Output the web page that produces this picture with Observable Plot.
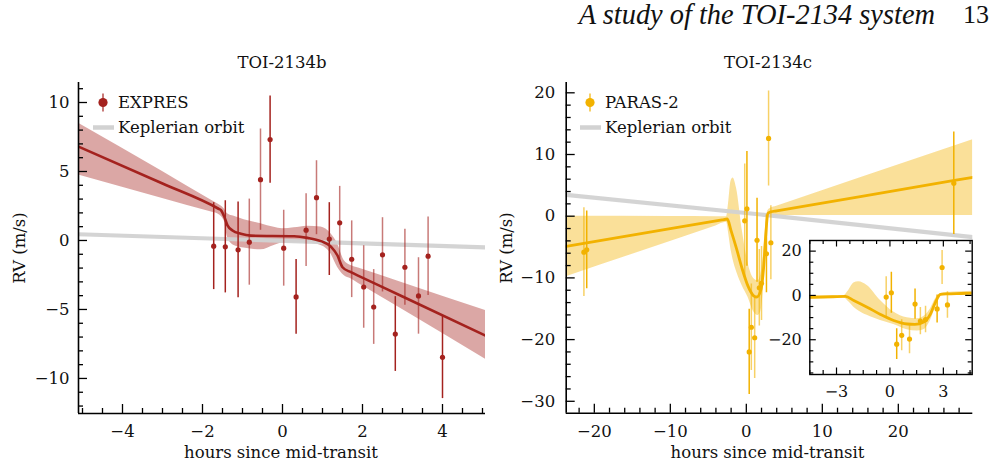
<!DOCTYPE html>
<html>
<head>
<meta charset="utf-8">
<script src="https://cdn.jsdelivr.net/npm/d3@7"></script>
<script src="https://cdn.jsdelivr.net/npm/@observablehq/plot@0.6"></script>
<style>
html,body{margin:0;padding:0;background:#fff;}
#fig{position:relative;width:1002px;height:468px;overflow:hidden;background:#fff;}
#fig > *{position:absolute;}
#hdr{font-family:"Liberation Serif",serif;font-style:italic;font-size:28.4px;line-height:1;color:#111;white-space:nowrap;}
#pg{font-family:"Liberation Serif",serif;font-size:26px;line-height:1;color:#111;}
</style>
</head>
<body>
<div id="fig"></div>
<script>
// ---------------- data ----------------
const panelTitles = ["TOI-2134b", "TOI-2134c"];
const seriesNames = ["EXPRES", "PARAS-2", "Keplerian orbit"];
const xLabel = "hours since mid-transit";
const yLabel = "RV (m/s)";
const headerText = "A study of the TOI-2134 system";
const pageNumber = "13";

// TOI-2134b, EXPRES
const expresTime = [-1.72,-1.43,-1.11,-0.83,-0.55,-0.31,0.03,0.34,0.59,0.85,1.17,1.43,1.73,2.03,2.28,2.50,2.82,3.06,3.40,3.64,4.00];
const expresRV   = [-0.41,-0.46,-0.68,-0.12,4.41,7.31,-0.56,-4.09,0.75,3.10,0.10,1.28,-1.36,-3.37,-4.82,-1.04,-6.78,-1.94,-4.02,-1.14,-8.47];
const expresErr  = [3.15,3.34,3.47,3.12,3.67,3.16,2.75,2.71,2.63,2.68,2.64,2.64,2.78,2.99,2.71,2.69,2.71,2.75,2.77,2.85,2.99];
const expresSet  = ["d","d","d","l","l","d","l","d","l","l","d","l","l","l","l","l","d","l","l","l","d"];

const modelTimeB = [-5.1,-3.0,-1.6,-1.54,-1.46,-1.375,-1.25,-1.04,-0.79,0.29,0.625,0.96,1.21,1.375,1.5,1.71,1.9,3.0,5.075];
const modelRVB   = [6.8,4.13,2.3,2.2,1.75,1.1,0.73,0.48,0.35,0.31,0.19,-0.05,-0.44,-1.09,-1.94,-2.3,-2.56,-4.06,-6.9];
const bandTimeB  = [-5.1,-3.0,-1.8,-1.625,-1.46,-1.375,-1.21,-0.96,-0.54,-0.21,0,0.29,0.625,0.96,1.21,1.375,1.54,1.71,1.9,3.0,5.075];
const bandLoB    = [4.75,3.05,2.08,1.94,1.45,0.24,-0.36,-0.55,-0.68,-0.36,-0.19,-0.17,-0.19,-0.36,-0.97,-1.94,-2.54,-2.78,-3.11,-5.01,-8.6];
const bandHiB    = [8.5,5.0,2.95,2.66,2.3,1.94,1.75,1.5,1.21,0.95,0.85,0.92,1.04,0.97,0.48,-0.24,-1.45,-1.82,-2.0,-3.07,-5.08];
const keplerTimeB = [-5.1, 5.075];
const keplerRVB   = [0.45, -0.5];

// TOI-2134c, PARAS-2
const parasTime = [-21.37,-21.0,-0.21,0.08,0.38,0.66,1.10,1.41,1.71,2.00,2.65,2.93,3.23,27.3];
const parasRV   = [-5.83,-5.45,-0.75,1.2,-22.0,-18.0,-19.7,-3.9,-11.6,-10.9,-6.1,12.6,-4.3,5.35];
const parasErr  = [7.2,6.3,9.2,9.3,6.9,7.0,6.6,6.8,6.2,6.0,6.3,7.7,6.0,8.3];
const parasSet  = ["l","d","l","d","d","l","l","d","l","l","d","l","l","d"];

const modelTimeC = [-23.7,-10,-3.2,-2.5,-2.03,-1.28,-0.53,0.21,0.97,1.4,1.9,2.28,2.56,2.84,3.2,4.0,15,29.8];
const modelRVC   = [-4.9,-2.02,-0.6,-0.45,-2.26,-5.3,-8.6,-11.3,-12.9,-13.1,-12.0,-8.3,-3.0,0.45,0.7,0.87,3.18,6.3];
const bandTimeC  = [-23.7,-10,-4.0,-2.6,-2.3,-2.03,-1.75,-1.28,-0.53,0.21,0.97,1.53,1.9,2.28,2.56,2.84,3.2,4.0,15,29.8];
const bandLoC    = [-9.8,-4.09,-1.58,-1.0,-3.0,-5.3,-7.0,-9.0,-11.3,-13.1,-15.5,-16.1,-15.5,-11.3,-5.3,0.0,0.1,0.1,0.1,0.1];
const bandHiC    = [0.0,-0.05,-0.09,-0.1,2.5,5.6,6.2,4.5,-2.3,-7.5,-10.1,-10.5,-9.5,-6.0,-1.5,0.9,1.3,1.63,6.23,12.4];
const keplerTimeC = [-23.7, 1.9, 29.8];
const keplerRVC   = [3.45, 0.27, -3.4];

// tick values
const bXTicks = [-4,-2,0,2,4];
const bYTicks = [-10,-5,0,5,10];
const cXTicks = [-20,-10,0,10,20];
const cYTicks = [-30,-20,-10,0,10,20];
const iXTicks = [-3,0,3];
const iYTicks = [-20,0,20];

// ---------------- styling ----------------
const RED = "#a4221e", ORANGE = "#f2b200", GRAY = "#d2d2d2";
const FONT = "DejaVu Serif";
const fmt = d => (d < 0 ? "\u2212" : "") + Math.abs(d);
const minorOf = (a, b, s, maj) => d3.range(a, b + s / 2, s).map(v => +v.toFixed(3)).filter(v => !maj.includes(v));

const zip = (t, v, e, g) => t.map((x, i) => ({t: x, rv: v[i], e: e ? e[i] : 0, g: g ? g[i] : "d"}));
const bPts = zip(expresTime, expresRV, expresErr, expresSet);
const bModel = zip(modelTimeB, modelRVB);
const bBand = bandTimeB.map((t, i) => ({t, lo: bandLoB[i], hi: bandHiB[i]}));
const bKep = zip(keplerTimeB, keplerRVB);
const cPts = zip(parasTime, parasRV, parasErr, parasSet);
const cModel = zip(modelTimeC, modelRVC);
const cBand = bandTimeC.map((t, i) => ({t, lo: bandLoC[i], hi: bandHiC[i]}));
const cKep = zip(keplerTimeC, keplerRVC);

function axesMarks(xd, yd, pw, ph, o) {
  const kx = (xd[1] - xd[0]) / pw, ky = (yd[1] - yd[0]) / ph;
  const S = {stroke: "#000", strokeWidth: o.tw};
  const m = [];
  const ex = o.box ? [[yd[0], 1], [yd[1], -1]] : [[yd[0], 1]];
  const ey = o.box ? [[xd[0], 1], [xd[1], -1]] : [[xd[0], 1]];
  for (const [e, s] of ex) {
    m.push(Plot.ruleX(o.xMin, {x: d => d, y1: () => e, y2: () => e + s * o.l * ky, ...S}));
    m.push(Plot.ruleX(o.xMaj, {x: d => d, y1: () => e, y2: () => e + s * o.L * ky, ...S}));
  }
  for (const [e, s] of ey) {
    m.push(Plot.ruleY(o.yMin, {y: d => d, x1: () => e, x2: () => e + s * o.l * kx, ...S}));
    m.push(Plot.ruleY(o.yMaj, {y: d => d, x1: () => e, x2: () => e + s * o.L * kx, ...S}));
  }
  if (o.box) m.push(Plot.frame({stroke: "#000", strokeWidth: o.sw}));
  else {
    m.push(Plot.ruleY([yd[0]], {stroke: "#000", strokeWidth: o.sw}));
    m.push(Plot.ruleX([xd[0]], {stroke: "#000", strokeWidth: o.sw}));
  }
  m.push(Plot.axisX(o.xMaj, {tickSize: 0, tickPadding: o.px, tickFormat: fmt, label: null, fontSize: o.fs, fill: "#111"}));
  m.push(Plot.axisY(o.yMaj, {tickSize: 0, tickPadding: o.py, tickFormat: fmt, label: null, fontSize: o.fs, fill: "#111"}));
  return m;
}

function dataMarks(pts, model, band, kep, color, lw, withKep) {
  const m = [
    Plot.areaY(band, {x: "t", y1: "lo", y2: "hi", fill: color, fillOpacity: 0.4, curve: "monotone-x", clip: true})
  ];
  if (withKep) m.push(Plot.line(kep, {x: "t", y: "rv", stroke: GRAY, strokeWidth: 4.2, strokeOpacity: 0.95, clip: true}));
  m.push(
    Plot.line(model, {x: "t", y: "rv", stroke: color, strokeWidth: lw, curve: "monotone-x", clip: true}),
    Plot.ruleX(pts, {x: "t", y1: d => d.rv - d.e, y2: d => d.rv + d.e, stroke: color, strokeWidth: 1.5,
      strokeOpacity: d => d.g === "d" ? 1 : 0.6, clip: true}),
    Plot.dot(pts, {x: "t", y: "rv", r: 2.6, fill: color, clip: true})
  );
  return m;
}

function makePlot(cfg) {
  const {width, height, mL, mR, mT, mB, xd, yd} = cfg;
  const pw = width - mL - mR, ph = height - mT - mB;
  const marks = [];
  if (cfg.bg) marks.push(Plot.frame({fill: "white", stroke: "none"}));
  marks.push(...cfg.marks);
  marks.push(...axesMarks(xd, yd, pw, ph, cfg.ax));
  const svg = Plot.plot({
    width, height,
    marginLeft: mL, marginRight: mR, marginTop: mT, marginBottom: mB,
    x: {domain: xd, axis: null},
    y: {domain: yd, axis: null},
    style: {fontFamily: FONT, fontSize: cfg.ax.fs + "px", background: "transparent", overflow: "visible"},
    marks
  });
  svg.style.position = "absolute";
  svg.style.left = cfg.left + "px";
  svg.style.top = cfg.top + "px";
  return svg;
}

const fig = document.getElementById("fig");

// left panel
const bxd = [-5.1, 5.075], byd = [-12.54, 11.45];
fig.appendChild(makePlot({
  left: 0, top: 0, width: 500, height: 468, mL: 78, mR: 15, mT: 82, mB: 55,
  xd: bxd, yd: byd,
  marks: dataMarks(bPts, bModel, bBand, bKep, RED, 2.6, true),
  ax: {xMaj: bXTicks, xMin: minorOf(-5, 5, 0.5, bXTicks), yMaj: bYTicks, yMin: minorOf(-12, 11, 1, bYTicks),
       L: 9, l: 5, tw: 1.3, sw: 1.6, px: 12, py: 9, fs: 16.5, box: false}
}));

// right panel
const cxd = [-23.7, 29.8], cyd = [-31.93, 21.67];
fig.appendChild(makePlot({
  left: 500, top: 0, width: 502, height: 468, mL: 65.7, mR: 29.7, mT: 82, mB: 55.3,
  xd: cxd, yd: cyd,
  marks: dataMarks(cPts, cModel, cBand, cKep, ORANGE, 2.8, true),
  ax: {xMaj: cXTicks, xMin: minorOf(-22, 28, 2, cXTicks), yMaj: cYTicks, yMin: minorOf(-30, 20, 2, cYTicks),
       L: 9, l: 5, tw: 1.3, sw: 1.6, px: 12, py: 11, fs: 16.5, box: false}
}));

// inset
const ixd = [-4.5, 4.62], iyd = [-35.7, 24.8];
fig.appendChild(makePlot({
  left: 760, top: 230, width: 220, height: 170, mL: 49.3, mR: 8.3, mT: 10, mB: 26,
  xd: ixd, yd: iyd, bg: true,
  marks: dataMarks(cPts, cModel, cBand, cKep, ORANGE, 2.8, false),
  ax: {xMaj: iXTicks, xMin: minorOf(-4.5, 4.5, 0.75, iXTicks), yMaj: iYTicks, yMin: minorOf(-35, 20, 5, iYTicks),
       L: 6.5, l: 4, tw: 1.2, sw: 1.4, px: 11, py: 8, fs: 16, box: true}
}));

// overlay: titles, axis labels, legends
const ov = d3.create("svg").attr("width", 1002).attr("height", 468)
  .style("position", "absolute").style("left", "0px").style("top", "0px")
  .attr("font-family", FONT).attr("font-size", 16.5).attr("fill", "#111");

const titlePos = [[282, 62], [768, 62]];
panelTitles.forEach((t, i) => ov.append("text").attr("x", titlePos[i][0]).attr("y", titlePos[i][1])
  .attr("text-anchor", "middle").attr("dominant-baseline", "central").text(t));
[281, 767.5].forEach(x => ov.append("text").attr("x", x).attr("y", 452)
  .attr("text-anchor", "middle").attr("dominant-baseline", "central").text(xLabel));
[19, 506].forEach(x => ov.append("text").attr("transform", `translate(${x},248) rotate(-90)`)
  .attr("text-anchor", "middle").attr("dominant-baseline", "central").text(yLabel));

function legend(x0, color, name) {
  const g = ov.append("g");
  g.append("line").attr("x1", x0 + 10).attr("x2", x0 + 10).attr("y1", 93.5).attr("y2", 111.5)
    .attr("stroke", color).attr("stroke-width", 1.5).attr("stroke-opacity", 0.8);
  g.append("circle").attr("cx", x0 + 10).attr("cy", 102.5).attr("r", 4.6).attr("fill", color);
  g.append("text").attr("x", x0 + 25).attr("y", 102.5).attr("dominant-baseline", "central").text(name);
  g.append("line").attr("x1", x0).attr("x2", x0 + 21).attr("y1", 127.5).attr("y2", 127.5)
    .attr("stroke", GRAY).attr("stroke-width", 4.5);
  g.append("text").attr("x", x0 + 25).attr("y", 127.5).attr("dominant-baseline", "central").text(seriesNames[2]);
}
legend(93, RED, seriesNames[0]);
legend(580, ORANGE, seriesNames[1]);
fig.appendChild(ov.node());

// header
const hdr = document.createElement("div");
hdr.id = "hdr"; hdr.textContent = headerText;
hdr.style.right = (1002 - 935) + "px"; hdr.style.top = "1px";
fig.appendChild(hdr);
const pg = document.createElement("div");
pg.id = "pg"; pg.textContent = pageNumber;
pg.style.left = "963px"; pg.style.top = "2px";
fig.appendChild(pg);
</script>
</body>
</html>
